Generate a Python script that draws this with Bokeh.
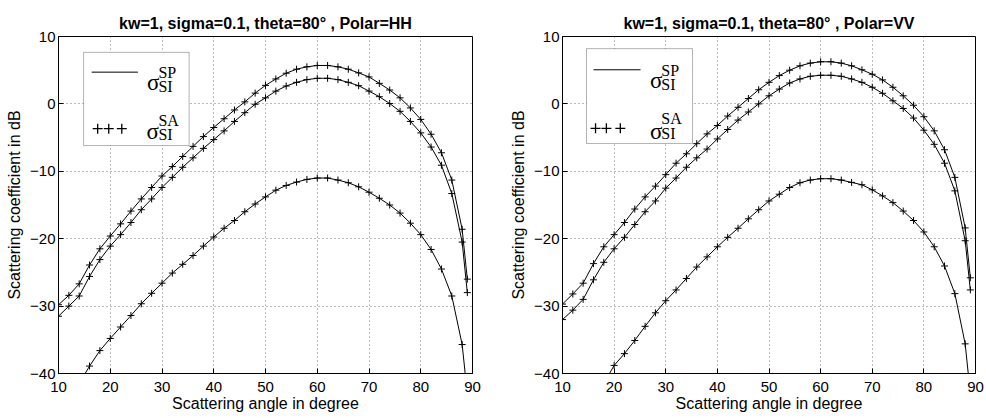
from bokeh.plotting import figure
from bokeh.layouts import row
from bokeh.models import Range1d, FixedTicker, BoxAnnotation, Label, Arrow
from bokeh.embed import file_html
from bokeh.resources import INLINE

# ---------------- data ----------------
angle_full = [10, 12, 14, 16, 18, 20, 22, 24, 26, 28, 30, 32, 34, 36, 38, 40, 42, 44, 46, 48,
              50, 52, 54, 56, 58, 60, 62, 64, 66, 68, 70, 72, 74, 76, 78, 80, 82, 84, 86, 88, 89]

hh_upper = [-29.8, -28.4, -26.7, -23.9, -21.5, -19.6, -17.8, -15.9, -14.1, -12.4, -10.7, -9.3,
            -7.8, -6.3, -4.85, -3.5, -2.2, -0.9, 0.3, 1.6, 2.75, 3.7, 4.55, 5.15, 5.5, 5.7, 5.7,
            5.5, 5.15, 4.6, 4.0, 3.05, 2.06, 0.9, -0.6, -2.3, -4.5, -7.25, -11.3, -18.6, -26.0]
hh_middle = [-31.5, -30.0, -28.5, -25.6, -23.1, -21.1, -19.4, -17.6, -15.7, -14.1, -12.4, -10.9,
             -9.4, -8.0, -6.6, -5.3, -4.0, -2.6, -1.3, -0.05, 0.9, 1.9, 2.65, 3.2, 3.6, 3.8, 3.8,
             3.6, 3.2, 2.7, 1.9, 1.07, 0.05, -1.1, -2.6, -4.3, -6.4, -9.1, -13.3, -20.5, -28.0]
angle_hh_lower = [14, 16, 18, 20, 22, 24, 26, 28, 30, 32, 34, 36, 38, 40, 42, 44, 46, 48,
                  50, 52, 54, 56, 58, 60, 62, 64, 66, 68, 70, 72, 74, 76, 78, 80, 82, 84, 86, 88, 89]
hh_lower = [-41.5, -38.9, -36.6, -34.8, -33.1, -31.4, -29.65, -28.1, -26.6, -25.1, -23.8, -22.5,
            -21.1, -19.75, -18.45, -17.3, -16.0, -14.85, -13.8, -12.8, -12.1, -11.6, -11.2, -11.0,
            -11.0, -11.3, -11.7, -12.3, -13.1, -14.0, -15.0, -16.2, -17.7, -19.4, -21.6, -24.5,
            -28.5, -35.7, -43.0]

vv_upper = [-29.7, -28.2, -26.6, -23.7, -21.2, -19.4, -17.6, -15.6, -13.8, -12.2, -10.5, -8.8,
            -7.4, -5.9, -4.45, -3.2, -1.8, -0.5, 0.8, 2.1, 3.2, 4.2, 5.0, 5.65, 6.05, 6.25, 6.25,
            6.05, 5.65, 5.06, 4.4, 3.56, 2.47, 1.2, -0.2, -1.9, -4.0, -6.8, -10.9, -18.4, -25.8]
vv_middle = [-32.0, -30.6, -29.0, -26.1, -23.5, -21.5, -19.8, -17.9, -16.0, -14.4, -12.5, -11.0,
             -9.4, -8.0, -6.7, -5.2, -3.8, -2.4, -1.2, 0.0, 1.2, 2.2, 3.1, 3.7, 4.1, 4.25, 4.25,
             4.1, 3.7, 3.2, 2.47, 1.57, 0.46, -0.68, -2.1, -3.9, -6.0, -8.8, -12.9, -20.3, -27.6]
angle_vv_lower = [18, 20, 22, 24, 26, 28, 30, 32, 34, 36, 38, 40, 42, 44, 46, 48,
                  50, 52, 54, 56, 58, 60, 62, 64, 66, 68, 70, 72, 74, 76, 78, 80, 82, 84, 86, 88, 89]
vv_lower = [-41.5, -38.8, -37.05, -35.1, -33.0, -31.0, -29.2, -27.6, -25.9, -24.2, -22.7, -21.2,
            -19.8, -18.45, -17.05, -15.7, -14.4, -13.4, -12.4, -11.7, -11.3, -11.1, -11.1, -11.3,
            -11.65, -12.0, -12.75, -13.65, -14.65, -15.9, -17.3, -19.0, -21.2, -24.05, -28.15,
            -35.6, -43.0]

x_ticks = [10, 20, 30, 40, 50, 60, 70, 80, 90]
x_tick_labels = ["10", "20", "30", "40", "50", "60", "70", "80", "90"]
y_ticks = [-40, -30, -20, -10, 0, 10]
y_tick_labels = ["\u221240", "\u221230", "\u221220", "\u221210", "0", "10"]

titles = ["kw=1, sigma=0.1, theta=80\u00b0 , Polar=HH",
          "kw=1, sigma=0.1, theta=80\u00b0 , Polar=VV"]
x_label = "Scattering angle in degree"
y_label = "Scattering coefficient in dB"

# legend geometry (data units of each panel)
legend_hh = dict(box=(14.85, 35.24, 7.65, -6.18), line=(16.41, 25.34, 4.71),
                 plus_x=[17.57, 19.71, 22.23], plus_y=-3.68,
                 sig1=(27.1, 3.2), sup1=(29.3, 4.6), sub1=(29.3, 2.55),
                 sig2=(27.0, -4.1), sup2=(29.3, -2.4), sub2=(29.3, -4.6))
legend_vv = dict(box=(14.65, 35.19, 8.20, -5.87), line=(16.01, 25.12, 5.06),
                 plus_x=[16.4, 18.5, 21.2], plus_y=-3.62,
                 sig1=(26.95, 3.45), sup1=(29.15, 4.91), sub1=(29.15, 2.85),
                 sig2=(26.95, -4.05), sup2=(29.15, -2.17), sub2=(29.15, -4.4))

SANS = "Liberation Sans"
SERIF = "Liberation Serif"


def make_panel(title, series, legend, borders, title_standoff, tick_standoff, label_standoff):
    bl, br, bt, bb = borders
    p = figure(width=493, height=418, output_backend="svg", toolbar_location=None,
               x_range=Range1d(10, 90), y_range=Range1d(-40, 10),
               min_border_left=bl, min_border_right=br, min_border_top=bt, min_border_bottom=bb)
    p.title.text = title
    p.title.align = "center"
    p.title.text_font = SANS
    p.title.text_font_size = "16px"
    p.title.text_font_style = "bold"
    p.title.text_color = "black"
    p.title.standoff = title_standoff

    p.background_fill_color = "white"
    p.border_fill_color = "white"
    p.outline_line_color = "black"
    p.outline_line_width = 1

    xt = FixedTicker(ticks=x_ticks)
    yt = FixedTicker(ticks=y_ticks)
    p.xaxis.ticker = xt
    p.yaxis.ticker = yt
    p.xaxis.major_label_overrides = dict(zip(x_ticks, x_tick_labels))
    p.yaxis.major_label_overrides = dict(zip(y_ticks, y_tick_labels))
    for ax in (p.xaxis[0], p.yaxis[0]):
        ax.major_tick_in = 5
        ax.major_tick_out = 0
        ax.minor_tick_in = 0
        ax.minor_tick_out = 0
        ax.axis_line_color = "black"
        ax.major_tick_line_color = "black"
        ax.major_label_text_font = SANS
        ax.major_label_text_font_size = "15px"
        ax.major_label_text_color = "black"
        ax.axis_label_text_font = SANS
        ax.axis_label_text_font_size = "16px"
        ax.axis_label_text_font_style = "normal"
        ax.axis_label_text_color = "black"
    p.xaxis.axis_label = x_label
    p.yaxis.axis_label = y_label
    p.xaxis.major_label_standoff = tick_standoff
    p.xaxis.axis_label_standoff = label_standoff
    p.yaxis.major_label_standoff = 3
    p.yaxis.axis_label_standoff = 4

    p.xgrid.ticker = xt
    p.ygrid.ticker = yt
    for g in (p.xgrid[0], p.ygrid[0]):
        g.grid_line_color = "black"
        g.grid_line_alpha = 0.55
        g.grid_line_dash = "1 3"
        g.grid_line_width = 1

    for xs, ys in series:
        p.line(xs, ys, line_color="black", line_width=1)
        p.scatter(xs, ys, marker="cross", size=7, line_color="black", line_width=1)

    # legend
    l, r, t, b = legend["box"]
    p.add_layout(BoxAnnotation(left=l, right=r, top=t, bottom=b, fill_color="white",
                               fill_alpha=1.0, line_color="black", line_width=1, level="glyph"))
    x0, x1, yl = legend["line"]
    p.add_layout(Arrow(end=None, x_start=x0, y_start=yl, x_end=x1, y_end=yl,
                       line_color="black", line_width=1))
    p.scatter(legend["plus_x"], [legend["plus_y"]] * len(legend["plus_x"]), marker="cross",
              size=10, line_color="black", line_width=1.3, level="annotation")
    for key, txt, size in (("sig1", "\u03c3", "23px"), ("sup1", "SP", "16px"), ("sub1", "SI", "16px"),
                           ("sig2", "\u03c3", "23px"), ("sup2", "SA", "16px"), ("sub2", "SI", "16px")):
        x, y = legend[key]
        p.add_layout(Label(x=x, y=y, text=txt, text_font=SERIF, text_font_size=size,
                           text_color="black", text_baseline="alphabetic", text_align="left"))
    return p


p1 = make_panel(titles[0], [(angle_full, hh_upper), (angle_full, hh_middle),
                            (angle_hh_lower, hh_lower)], legend_hh, (58, 21, 36, 45),
                title_standoff=9, tick_standoff=8, label_standoff=0)
p2 = make_panel(titles[1], [(angle_full, vv_upper), (angle_full, vv_middle),
                            (angle_vv_lower, vv_lower)], legend_vv, (69, 11, 36, 45),
                title_standoff=9, tick_standoff=8, label_standoff=0)

layout = row(p1, p2)
open("out.html", "w").write(file_html(layout, INLINE))
